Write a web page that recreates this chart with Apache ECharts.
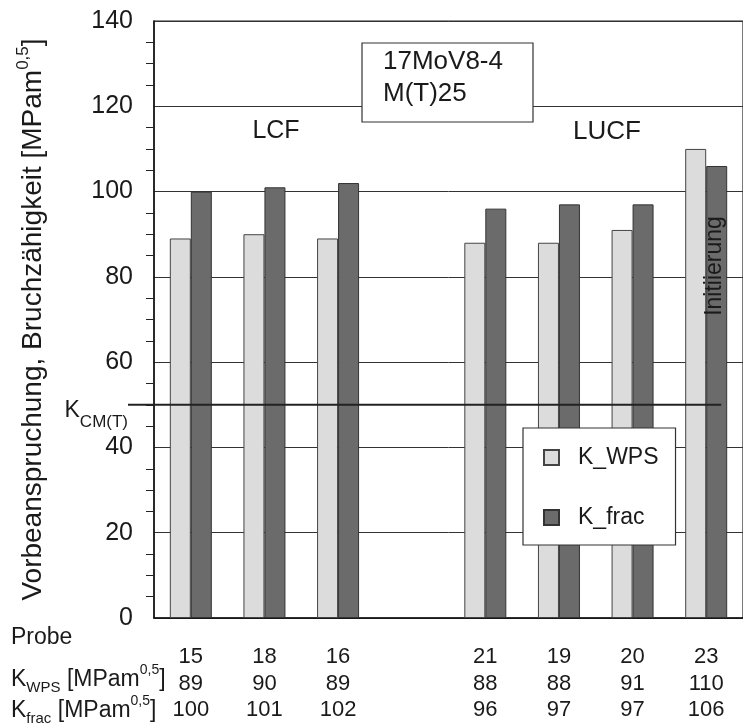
<!DOCTYPE html>
<html>
<head>
<meta charset="utf-8">
<script src="https://cdn.jsdelivr.net/npm/echarts@6/dist/echarts.min.js"></script>
<style>html,body{margin:0;padding:0;background:#fff;}#c{width:743px;height:725px;}</style>
</head>
<body>
<div id="c"></div>
<script>
// ---- data ----
const probes = ['15', '18', '16', '', '21', '19', '20', '23'];
const kWPS   = [89, 90, 89, null, 88, 88, 91, 110];
const kFrac  = [100, 101, 102, null, 96, 97, 97, 106];
const yTicks = [0, 20, 40, 60, 80, 100, 120, 140];
const kCM = 50;

const FONT = 'Liberation Sans, Arial, Helvetica, sans-serif';
const INK = '#1a1a1a';
const chart = echarts.init(document.getElementById('c'), null, {renderer: 'canvas'});

const option = {
  animation: false,
  backgroundColor: '#fff',
  textStyle: {fontFamily: FONT, color: INK},
  grid: {left: 154, right: -8, top: 21, bottom: 107, show: true, borderColor: '#222', borderWidth: 1.2, backgroundColor: 'transparent'},
  legend: {
    orient: 'vertical', left: 523, top: 428,
    padding: [18, 17, 16, 20], itemGap: 37, itemWidth: 15, itemHeight: 15,
    icon: 'rect',
    backgroundColor: '#fff', borderColor: '#333', borderWidth: 1.2,
    textStyle: {fontSize: 23, fontFamily: FONT, color: INK, padding: [0, 0, 0, 14]},
    data: ['K_WPS', 'K_frac']
  },
  xAxis: {
    type: 'category', data: probes,
    axisLine: {show: true, lineStyle: {color: '#111', width: 1.5}},
    axisTick: {show: false},
    axisLabel: {
      interval: 0, margin: 26, fontSize: 22, lineHeight: 26.5, color: INK, fontFamily: FONT,
      formatter: function (v, i) {
        if (!v) return '';
        return v + '\n' + kWPS[i] + '\n' + kFrac[i];
      }
    }
  },
  yAxis: {
    type: 'value', min: 0, max: 140, interval: 20,
    name: '{n|Vorbeanspruchung, Bruchzähigkeit [MPam}{sup|0,5}{n|]}',
    nameLocation: 'middle', nameRotate: 90, nameGap: 107,
    nameTextStyle: {rich: {
      n: {fontSize: 28, fontFamily: FONT, color: INK, lineHeight: 32, verticalAlign: 'bottom'},
      sup: {fontSize: 17, fontFamily: FONT, color: INK, lineHeight: 32, verticalAlign: 'top'}
    }},
    axisLine: {show: true, lineStyle: {color: '#111', width: 1.5}},
    axisTick: {show: false},
    minorTick: {show: true, splitNumber: 4, length: 8, lineStyle: {color: '#222', width: 1}},
    splitLine: {show: true, lineStyle: {color: '#333', width: 1}},
    axisLabel: {fontSize: 25, margin: 21, color: INK, fontFamily: FONT,
      formatter: function (v) { return yTicks.indexOf(v) >= 0 ? String(v) : ''; }}
  },
  series: [
    {name: 'K_WPS', type: 'bar', data: kWPS, barWidth: 21, barGap: '0%',
     itemStyle: {color: '#dcdcdc', borderColor: '#444', borderWidth: 1}},
    {name: 'K_frac', type: 'bar', data: kFrac, barWidth: 21,
     itemStyle: {color: '#6b6b6b', borderColor: '#333', borderWidth: 1}}
  ]
};
chart.setOption(option);

// annotations positioned through the chart's own scales
const yCM = chart.convertToPixel({yAxisIndex: 0}, kCM);
const xLast = chart.convertToPixel({xAxisIndex: 0}, probes.length - 1);

const rowRich = {
  n: {fontSize: 23, fontFamily: FONT, fill: INK, lineHeight: 28, verticalAlign: 'bottom'},
  sup: {fontSize: 14, fontFamily: FONT, fill: INK, lineHeight: 28, verticalAlign: 'top'},
  sub: {fontSize: 15, fontFamily: FONT, fill: INK, lineHeight: 28, verticalAlign: 'bottom', padding: [0, 0, -4, 0]}
};

chart.setOption({
  graphic: [
    {type: 'line', z: 50, shape: {x1: 128, y1: yCM, x2: xLast + 15, y2: yCM}, style: {stroke: '#222', lineWidth: 2}},
    {type: 'text', z: 50, x: 128, y: yCM - 6, style: {
      text: '{k|K}{s|CM(T)}', align: 'right', verticalAlign: 'top',
      rich: {k: {fontSize: 23, fontFamily: FONT, fill: INK, lineHeight: 26, verticalAlign: 'top'},
             s: {fontSize: 17, fontFamily: FONT, fill: INK, lineHeight: 26, verticalAlign: 'bottom', padding: [0, 0, -6, 0]}}}},
    {type: 'group', z: 60, children: [
      {type: 'rect', shape: {x: 362, y: 43, width: 171, height: 79}, style: {fill: '#fff', stroke: '#333', lineWidth: 1.2}},
      {type: 'text', x: 383, y: 46, style: {text: '17MoV8-4\nM(T)25', fontSize: 26, lineHeight: 32, fontFamily: FONT, fill: INK}}
    ]},
    {type: 'text', z: 50, x: 276, y: 131, style: {text: 'LCF', fontSize: 25, fontFamily: FONT, fill: INK, align: 'center', verticalAlign: 'middle'}},
    {type: 'text', z: 50, x: 607, y: 132, style: {text: 'LUCF', fontSize: 26, fontFamily: FONT, fill: INK, align: 'center', verticalAlign: 'middle'}},
    {type: 'text', z: 50, x: 715, y: 266, rotation: Math.PI / 2, style: {text: 'Initiierung', fontSize: 23, fontFamily: FONT, fill: INK, align: 'center', verticalAlign: 'middle'}},
    {type: 'text', z: 50, x: 11, y: 638, style: {text: 'Probe', fontSize: 23, fontFamily: FONT, fill: INK, verticalAlign: 'middle'}},
    {type: 'text', z: 50, x: 11, y: 677, style: {text: '{n|K}{sub|WPS}{n| [MPam}{sup|0,5}{n|]}', verticalAlign: 'middle', rich: rowRich}},
    {type: 'text', z: 50, x: 11, y: 708, style: {text: '{n|K}{sub|frac}{n| [MPam}{sup|0,5}{n|]}', verticalAlign: 'middle', rich: rowRich}}
  ]
});
</script>
</body>
</html>
